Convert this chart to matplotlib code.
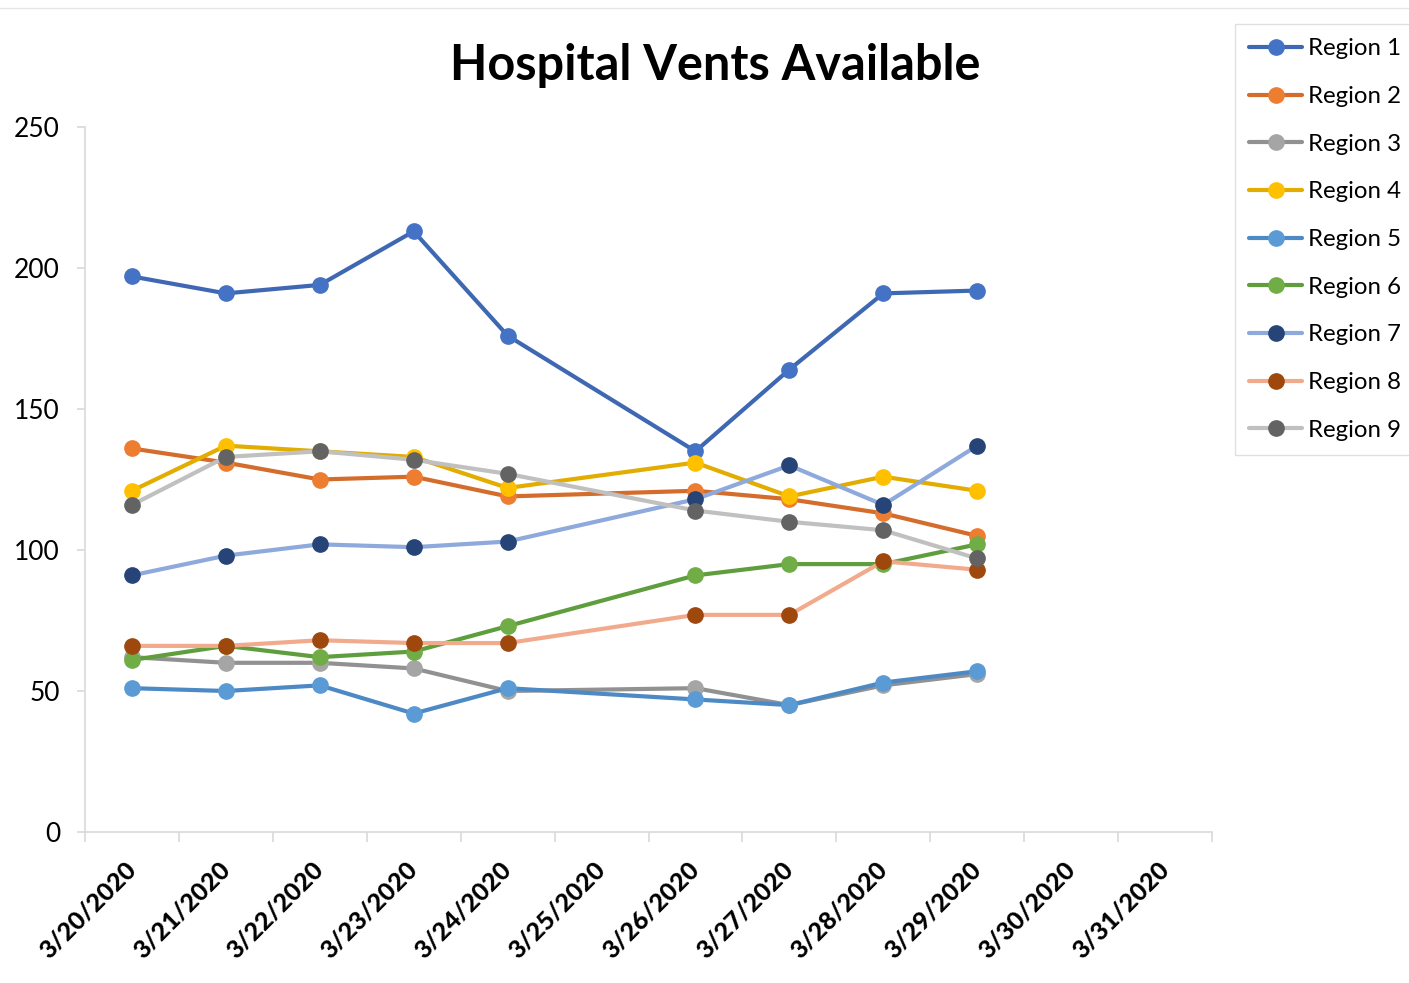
"""Hospital vents available per region, Excel-style line chart"""

import matplotlib
matplotlib.use("Agg")
import matplotlib.pyplot as plt

plt.rcParams['font.family'] = ['Lato', 'DejaVu Sans']

dates = ['3/20/2020', '3/21/2020', '3/22/2020', '3/23/2020', '3/24/2020', '3/25/2020',
         '3/26/2020', '3/27/2020', '3/28/2020', '3/29/2020', '3/30/2020', '3/31/2020']
# index into dates for each reported day (no data on 3/25)
day_idx = [0, 1, 2, 3, 4, 6, 7, 8, 9]

region_names = ['Region 1', 'Region 2', 'Region 3', 'Region 4', 'Region 5',
                'Region 6', 'Region 7', 'Region 8', 'Region 9']
region_1 = [197, 191, 194, 213, 176, 135, 164, 191, 192]
region_2 = [136, 131, 125, 126, 119, 121, 118, 113, 105]
region_3 = [62, 60, 60, 58, 50, 51, 45, 52, 56]
region_4 = [121, 137, 135, 133, 122, 131, 119, 126, 121]
region_5 = [51, 50, 52, 42, 51, 47, 45, 53, 57]
region_6 = [61, 66, 62, 64, 73, 91, 95, 95, 102]
region_7 = [91, 98, 102, 101, 103, 118, 130, 116, 137]
region_8 = [66, 66, 68, 67, 67, 77, 77, 96, 93]
region_9 = [116, 133, 135, 132, 127, 114, 110, 107, 97]
regions = [region_1, region_2, region_3, region_4, region_5,
           region_6, region_7, region_8, region_9]

line_colors = ['#3F68B3', '#D46C2C', '#919191', '#E2AC00', '#4D89C4',
               '#5F9E3C', '#8EA9DB', '#F2AA8C', '#C0C0C0']
marker_colors = ['#4472C4', '#ED7D31', '#A5A5A5', '#FFC000', '#5B9BD5',
                 '#70AD47', '#264478', '#9E480E', '#636363']

fig = plt.figure(figsize=(14.09, 9.83), dpi=100)
ax = fig.add_axes([85 / 1409, 1 - 832 / 983, (1212 - 85) / 1409, (832 - 127) / 983])

for name, vals, lc, mc in zip(region_names, regions, line_colors, marker_colors):
    ax.plot(day_idx, vals, color=lc, lw=3, marker='o', markersize=11,
            markerfacecolor=mc, markeredgecolor=mc, label=name, solid_capstyle='round')

ax.set_ylim(0, 250)
ax.set_xlim(-0.5, len(dates) - 0.5)
ax.set_yticks([0, 50, 100, 150, 200, 250])
ax.tick_params(axis='y', labelsize=19, length=6, color='#D9D9D9', width=1.2, pad=12)

# tick marks between categories, labels at category centres
ax.set_xticks([i - 0.5 for i in range(len(dates) + 1)])
ax.set_xticklabels([])
ax.set_xticks(range(len(dates)), minor=True)
ax.set_xticklabels(dates, minor=True, rotation=45, ha='right', va='center',
                   rotation_mode='anchor', fontsize=18, fontweight='black')
ax.tick_params(axis='x', which='major', length=7, color='#D9D9D9', width=1.2)
ax.tick_params(axis='x', which='minor', length=0, pad=24)

for side in ['top', 'right']:
    ax.spines[side].set_visible(False)
for side in ['left', 'bottom']:
    ax.spines[side].set_color('#D9D9D9')
    ax.spines[side].set_linewidth(1.2)

fig.text(715 / 1409, 1 - 65 / 983, 'Hospital Vents Available', ha='center', va='center',
         fontsize=35, fontweight='bold')

leg = fig.legend(loc='upper left', bbox_to_anchor=(1235 / 1409, 1 - 24 / 983),
                 borderaxespad=0, fontsize=17.3, handlelength=2.2, handletextpad=0.25,
                 labelspacing=1.11, frameon=True, fancybox=False, borderpad=0.6)
leg.get_frame().set_edgecolor('#D9D9D9')
leg.get_frame().set_linewidth(1.0)

fig.add_artist(plt.Line2D([0, 1], [1 - 8 / 983, 1 - 8 / 983], color='#E6E6E6', lw=1,
                          transform=fig.transFigure))

fig.savefig('out.png', dpi=100)
